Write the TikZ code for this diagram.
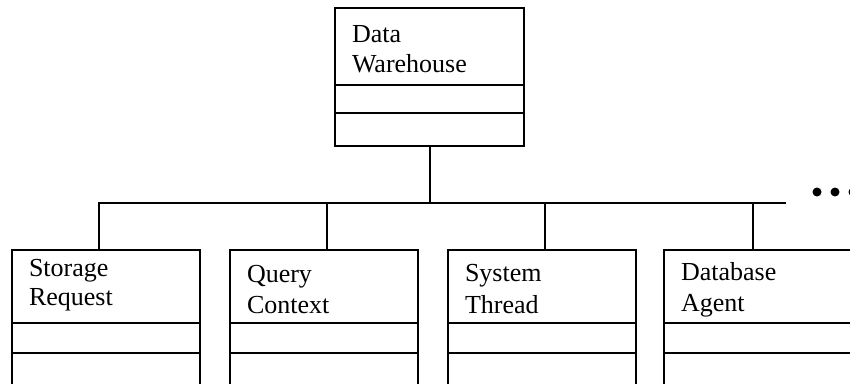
\documentclass[tikz,border=0pt]{standalone}
\usepackage{fontspec}
\setmainfont{Liberation Serif}
\begin{document}
\begin{tikzpicture}[x=1pt, y=-1pt, line width=2pt,
  classbox/.style={draw, rectangle, anchor=north west, inner sep=0pt,
                   minimum width=#1, minimum height=138pt},
  lbl/.style={anchor=base west, inner sep=0pt,
              font=\fontsize{26}{30}\selectfont},
  wire/.style={draw, line width=2pt},
  dot/.style={circle, fill, inner sep=0pt, minimum size=9pt}]
\useasboundingbox (0,0) rectangle (850,383);
\clip (0,0) rectangle (850,383);

% parent class
\node[classbox=189pt] (dw) at (334,7) {};
\draw ([yshift=-78pt]dw.north west) -- ([yshift=-78pt]dw.north east);
\draw ([yshift=-106pt]dw.north west) -- ([yshift=-106pt]dw.north east);
\node[lbl] (dw-l1) at (351,42) {Data};
\node[lbl] (dw-l2) at (351,72) {Warehouse};

% child classes
\node[classbox=188pt] (sr) at (11,249) {};
\node[classbox=188pt] (qc) at (229,249) {};
\node[classbox=188pt] (st) at (447,249) {};
\node[classbox=200pt] (da) at (663,249) {};
\foreach \b in {sr,qc,st,da}{
  \draw ([yshift=-74pt]\b.north west) -- ([yshift=-74pt]\b.north east);
  \draw ([yshift=-104pt]\b.north west) -- ([yshift=-104pt]\b.north east);
}
\node[lbl] (sr-l1) at (28,276) {Storage};
\node[lbl] (sr-l2) at (28,305) {Request};
\node[lbl] (qc-l1) at (246,282) {Query};
\node[lbl] (qc-l2) at (246,313) {Context};
\node[lbl] (st-l1) at (464,281) {System};
\node[lbl] (st-l2) at (464,313) {Thread};
\node[lbl] (da-l1) at (680,280) {Database};
\node[lbl] (da-l2) at (680,311) {Agent};

% inheritance bus
\coordinate (bus-l) at (98,203);
\coordinate (bus-r) at (786,203);
\draw[wire] (bus-l) -- (bus-r);
\draw[wire] (dw.south) -- (dw.south |- bus-l);
\coordinate (sr-in) at ([xshift=88pt]sr.north west);
\coordinate (qc-in) at ([xshift=98pt]qc.north west);
\coordinate (st-in) at ([xshift=98pt]st.north west);
\coordinate (da-in) at ([xshift=90pt]da.north west);
\foreach \c in {sr-in,qc-in,st-in,da-in}{
  \draw[wire] (\c) -- (\c |- bus-l);
}

% ellipsis
\node[dot] (more1) at (817,192) {};
\node[dot] (more2) at (835,192) {};
\node[dot] (more3) at (853,192) {};
\end{tikzpicture}
\end{document}
